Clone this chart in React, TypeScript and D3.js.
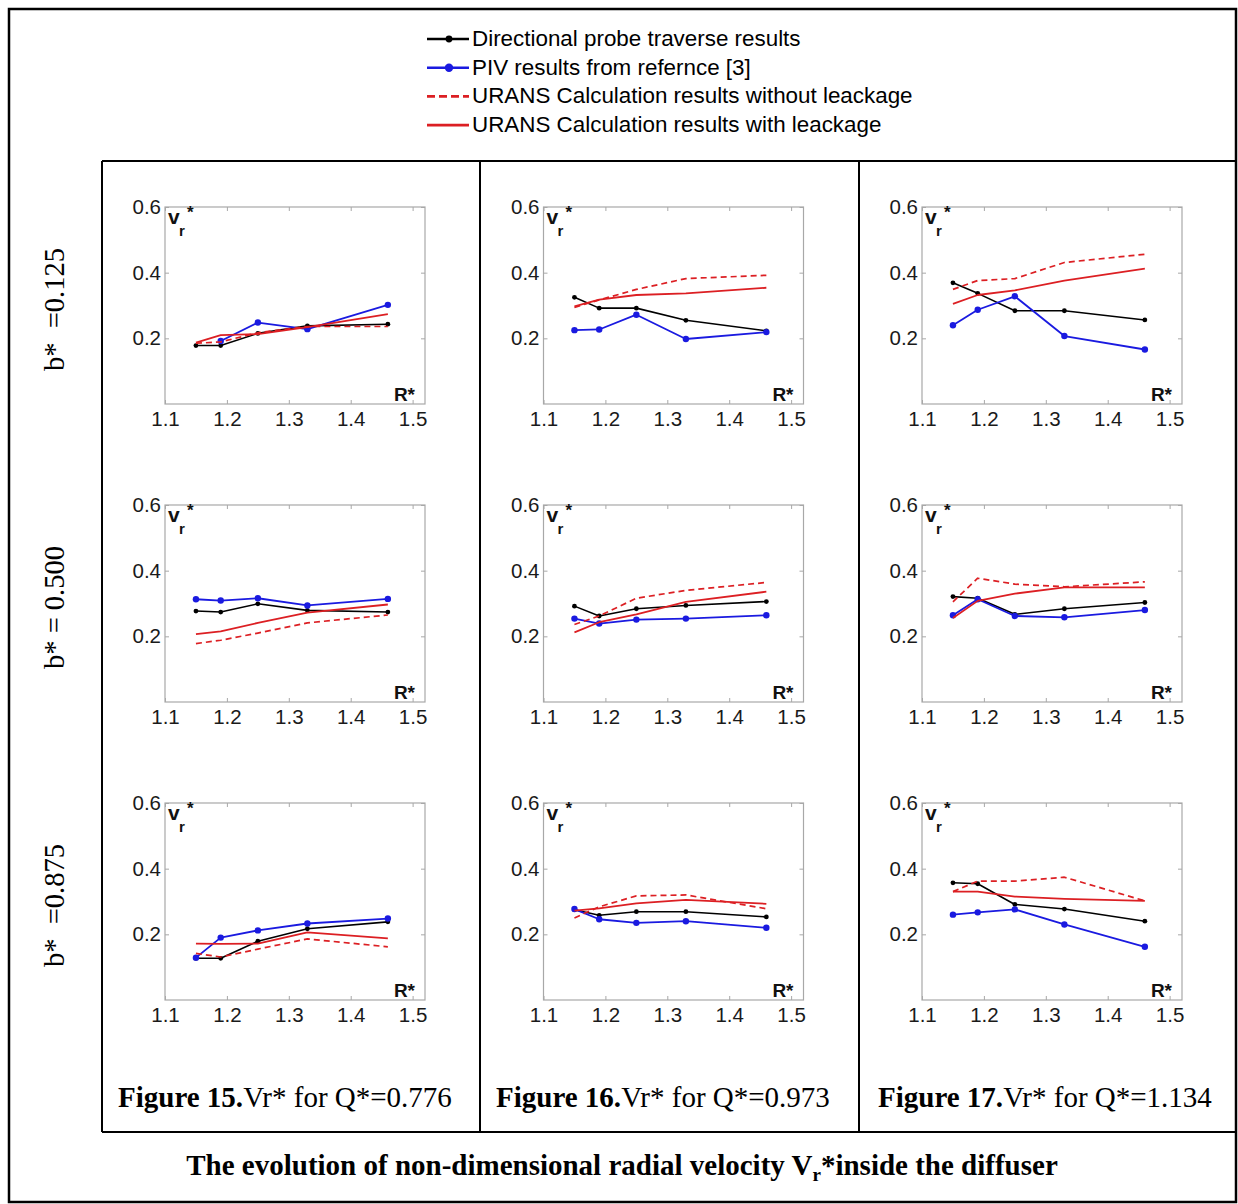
import { useEffect, useRef } from 'react';
import * as d3 from 'd3';

// radial positions R* of the measurement stations
const R_STAR = [1.15, 1.19, 1.25, 1.33, 1.46];
const X_TICKS = [1.1, 1.2, 1.3, 1.4, 1.5];
const Y_TICKS = [0.2, 0.4, 0.6];

const B_LABELS = ['b*  =0.125', 'b* = 0.500', 'b*  =0.875'];
const FIG_NUMS = ['Figure 15.', 'Figure 16.', 'Figure 17.'];
const FIG_TEXT = ['Vr* for Q*=0.776', 'Vr* for Q*=0.973', 'Vr* for Q*=1.134'];

const LEGEND_LABELS = [
  'Directional probe traverse results',
  'PIV results from refernce [3]',
  'URANS Calculation results without leackage',
  'URANS Calculation results with leackage',
];

// panels in row-major order: rows = b*, columns = Q*
const PROBE: (number | null)[][] = [
  [0.178, 0.178, 0.215, 0.238, 0.243],
  [0.325, 0.292, 0.292, 0.255, 0.223],
  [0.369, 0.337, 0.284, 0.284, 0.256],
  [0.277, 0.274, 0.299, 0.279, 0.274],
  [0.292, 0.262, 0.284, 0.294, 0.306],
  [0.321, 0.316, 0.267, 0.284, 0.303],
  [0.127, 0.127, 0.179, 0.217, 0.238],
  [0.275, 0.258, 0.269, 0.269, 0.253],
  [0.357, 0.354, 0.291, 0.277, 0.240],
];

const PIV: (number | null)[][] = [
  [null, 0.192, 0.248, 0.228, 0.302],
  [0.225, 0.227, 0.272, 0.198, 0.219],
  [0.240, 0.287, 0.328, 0.207, 0.166],
  [0.313, 0.309, 0.316, 0.294, 0.314],
  [0.254, 0.239, 0.251, 0.254, 0.264],
  [0.264, 0.313, 0.262, 0.258, 0.280],
  [0.129, 0.190, 0.212, 0.233, 0.248],
  [0.277, 0.246, 0.235, 0.240, 0.220],
  [0.260, 0.267, 0.276, 0.230, 0.162],
];

const URANS_NO_LEAK: (number | null)[][] = [
  [0.185, 0.189, 0.217, 0.236, 0.236],
  [0.294, 0.317, 0.349, 0.382, 0.392],
  [0.349, 0.376, 0.382, 0.431, 0.456],
  [0.178, 0.188, 0.210, 0.241, 0.265],
  [0.236, 0.262, 0.316, 0.340, 0.364],
  [0.305, 0.377, 0.359, 0.351, 0.366],
  [0.142, 0.131, 0.155, 0.186, 0.162],
  [0.250, 0.284, 0.317, 0.320, 0.278],
  [0.330, 0.362, 0.362, 0.374, 0.302],
];

const URANS_LEAK: (number | null)[][] = [
  [0.187, 0.210, 0.213, 0.234, 0.274],
  [0.297, 0.318, 0.332, 0.337, 0.354],
  [0.305, 0.332, 0.346, 0.376, 0.412],
  [0.207, 0.215, 0.241, 0.272, 0.297],
  [0.212, 0.243, 0.267, 0.305, 0.336],
  [0.256, 0.308, 0.330, 0.349, 0.349],
  [0.172, 0.171, 0.172, 0.206, 0.188],
  [0.272, 0.279, 0.294, 0.305, 0.293],
  [0.330, 0.330, 0.315, 0.308, 0.302],
];

const SERIES = [
  { data: PROBE, color: '#000000', dash: null, width: 1.6, marker: 2.4 },
  { data: PIV, color: '#1a1ae0', dash: null, width: 1.8, marker: 3.2 },
  { data: URANS_NO_LEAK, color: '#dc1f23', dash: '6,4', width: 1.7, marker: 0 },
  { data: URANS_LEAK, color: '#dc1f23', dash: null, width: 1.8, marker: 0 },
];

const SANS = '"Liberation Sans", Arial, sans-serif';
const SERIF = '"Liberation Serif", "Times New Roman", serif';

export default function App() {
  const svgRef = useRef<SVGSVGElement>(null);

  useEffect(() => {
    if (!svgRef.current) return;
    const svg = d3.select(svgRef.current);
    svg.selectAll('*').remove();

    const W = 1238;
    const H = 1204;
    svg.attr('width', W).attr('height', H);

    // frames
    svg.append('rect')
      .attr('x', 9).attr('y', 9).attr('width', W - 11).attr('height', H - 11)
      .attr('fill', 'none').attr('stroke', '#000').attr('stroke-width', 2.5);

    const tLeft = 102, tTop = 161, tRight = 1237, tBottom = 1132;
    const colLines = [tLeft, 480, 859];
    const frame = svg.append('g').attr('stroke', '#000').attr('stroke-width', 2);
    frame.append('line').attr('x1', tLeft).attr('x2', tRight).attr('y1', tTop).attr('y2', tTop);
    frame.append('line').attr('x1', tLeft).attr('x2', tRight).attr('y1', tBottom).attr('y2', tBottom);
    colLines.forEach((cx) => {
      frame.append('line').attr('x1', cx).attr('x2', cx).attr('y1', tTop).attr('y2', tBottom);
    });

    // legend
    const lg = svg.append('g');
    LEGEND_LABELS.forEach((label, i) => {
      const s = SERIES[i];
      const yb = 46 + i * 28.7;
      const ym = yb - 7;
      lg.append('line')
        .attr('x1', 427).attr('x2', 469).attr('y1', ym).attr('y2', ym)
        .attr('stroke', s.color).attr('stroke-width', 2.6)
        .attr('stroke-dasharray', s.dash ? '8,4' : null);
      if (s.marker) {
        lg.append('circle').attr('cx', 449).attr('cy', ym).attr('r', s.marker + 1)
          .attr('fill', s.color);
      }
      lg.append('text')
        .attr('x', 472).attr('y', yb)
        .attr('font-family', SANS).attr('font-size', 22.4).attr('fill', '#000')
        .text(label);
    });

    // panels
    const plotW = 260;
    const plotH = 197;
    const x = d3.scaleLinear().domain([1.1, 1.52]).range([0, plotW]);
    const y = d3.scaleLinear().domain([0, 0.6]).range([plotH, 0]);
    const fmt = d3.format('.1f');

    PROBE.forEach((_, p) => {
      const r = Math.floor(p / 3);
      const c = p % 3;
      const left = 165 + c * 378.5;
      const top = 207 + r * 298;
      const g = svg.append('g').attr('transform', `translate(${left},${top})`);

      g.append('rect')
        .attr('width', plotW).attr('height', plotH)
        .attr('fill', 'none').attr('stroke', '#a8a8a8').attr('stroke-width', 1.2);

      const styleAxis = (sel: d3.Selection<SVGGElement, unknown, null, undefined>) => {
        sel.select('.domain').remove();
        sel.selectAll('line').attr('stroke', '#a8a8a8');
        sel.selectAll('text')
          .attr('fill', '#1a1a1a')
          .attr('font-family', SANS)
          .attr('font-size', 20.5);
      };

      g.append('g')
        .call(d3.axisLeft(y).tickValues(Y_TICKS).tickSize(-4).tickPadding(4).tickFormat((d) => fmt(d as number)))
        .call(styleAxis);
      g.append('g')
        .attr('transform', `translate(${plotW},0)`)
        .call(d3.axisRight(y).tickValues(Y_TICKS).tickSize(-4).tickFormat(() => ''))
        .call(styleAxis);
      g.append('g')
        .attr('transform', `translate(0,${plotH})`)
        .call(d3.axisBottom(x).tickValues(X_TICKS).tickSize(-4).tickPadding(7).tickFormat((d) => fmt(d as number)))
        .call(styleAxis);
      g.append('g')
        .call(d3.axisTop(x).tickValues(X_TICKS).tickSize(-4).tickFormat(() => ''))
        .call(styleAxis);

      SERIES.forEach((s) => {
        const pts = s.data[p].map((v, i) => ({ r: R_STAR[i], v }));
        const line = d3.line<{ r: number; v: number | null }>()
          .defined((d) => d.v != null)
          .x((d) => x(d.r))
          .y((d) => y(d.v as number));
        g.append('path')
          .attr('d', line(pts))
          .attr('fill', 'none')
          .attr('stroke', s.color)
          .attr('stroke-width', s.width)
          .attr('stroke-dasharray', s.dash)
          .attr('stroke-linejoin', 'round');
        if (s.marker) {
          g.append('g').selectAll('circle')
            .data(pts.filter((d) => d.v != null))
            .join('circle')
            .attr('cx', (d) => x(d.r))
            .attr('cy', (d) => y(d.v as number))
            .attr('r', s.marker)
            .attr('fill', s.color);
        }
      });

      // axis name labels
      const vl = g.append('g').attr('font-family', SANS).attr('font-weight', 'bold').attr('fill', '#111');
      vl.append('text').attr('x', 3).attr('y', 17).attr('font-size', 21).text('v');
      vl.append('text').attr('x', 14).attr('y', 29).attr('font-size', 15).text('r');
      vl.append('text').attr('x', 22).attr('y', 11).attr('font-size', 17).text('*');
      g.append('text')
        .attr('x', plotW - 10).attr('y', plotH - 3)
        .attr('text-anchor', 'end')
        .attr('font-family', SANS).attr('font-weight', 'bold').attr('font-size', 19).attr('fill', '#111')
        .text('R*');
    });

    // row labels (b*)
    B_LABELS.forEach((label, r) => {
      const cy = 207 + r * 298 + plotH / 2 + 4;
      svg.append('text')
        .attr('transform', `translate(64,${cy}) rotate(-90)`)
        .attr('text-anchor', 'middle')
        .attr('font-family', SERIF).attr('font-size', 28.5)
        .style('white-space', 'pre')
        .attr('xml:space', 'preserve')
        .text(label);
    });

    // figure captions
    FIG_NUMS.forEach((num, c) => {
      const t = svg.append('text')
        .attr('x', [118, 496, 878][c]).attr('y', 1107)
        .attr('font-family', SERIF).attr('font-size', 29).attr('fill', '#000');
      t.append('tspan').attr('font-weight', 'bold').text(num);
      t.append('tspan').text(FIG_TEXT[c]);
    });

    // bottom title
    const title = svg.append('text')
      .attr('x', 622).attr('y', 1175)
      .attr('text-anchor', 'middle')
      .attr('font-family', SERIF).attr('font-weight', 'bold').attr('font-size', 29).attr('fill', '#000');
    title.append('tspan').text('The evolution of non-dimensional radial velocity V');
    title.append('tspan').attr('font-size', 19).attr('dy', 6).text('r');
    title.append('tspan').attr('dy', -6).text('*inside the diffuser');
  }, []);

  return <svg ref={svgRef} style={{ position: 'absolute', left: 0, top: 0, display: 'block' }} />;
}
